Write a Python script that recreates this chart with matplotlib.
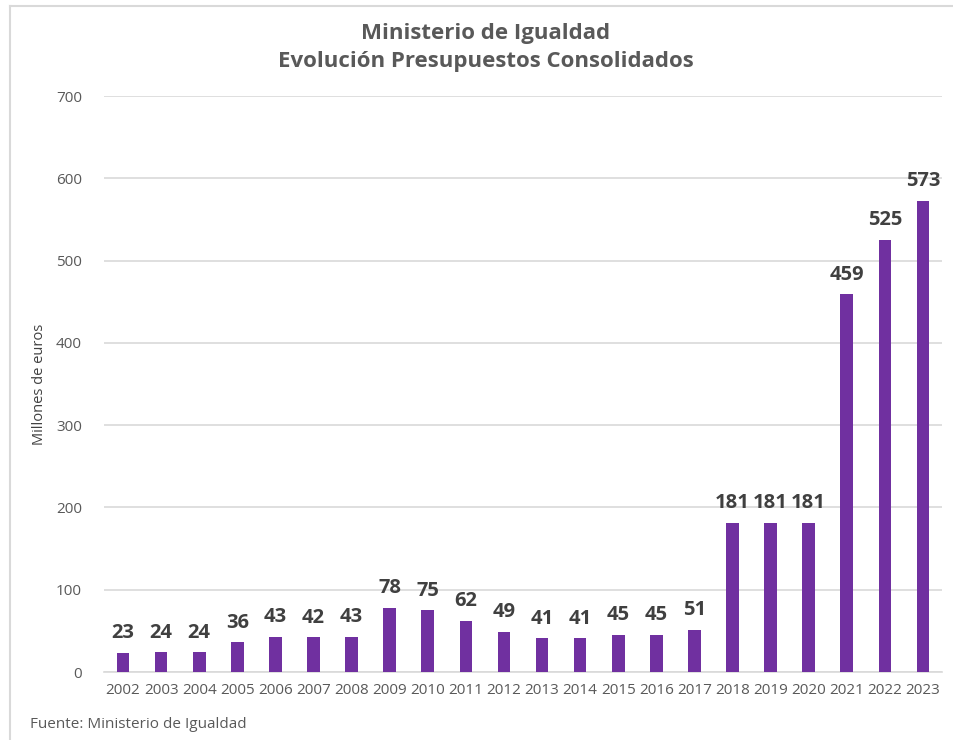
import matplotlib
matplotlib.use("Agg")
import matplotlib.pyplot as plt
from matplotlib.lines import Line2D

years = [str(y) for y in range(2002, 2024)]
values = [23, 24, 24, 36, 43, 42, 43, 78, 75, 62, 49, 41, 41, 45, 45, 51, 181, 181, 181, 459, 525, 573]
title_lines = ["Ministerio de Igualdad", "Evolución Presupuestos Consolidados"]
ylabel = "Millones de euros"
source = "Fuente: Ministerio de Igualdad"

W, H = 954, 740
fig = plt.figure(figsize=(W/100, H/100), dpi=100)
font = ["Open Sans", "DejaVu Sans"]

ax = fig.add_axes([104/W, 1-672/H, (942-104)/W, (672-96)/H])
x = range(len(years))
ax.bar(x, values, width=0.33, color="#7030A0", zorder=3)
ax.set_xlim(-0.5, len(years)-0.5)
ax.set_ylim(0, 700)
ax.set_yticks(range(0, 701, 100))
ax.set_xticks(list(x))
ax.set_xticklabels(years)
ax.grid(axis="y", color="#D9D9D9", linewidth=1.2, zorder=0)
for s in ["top", "right", "left"]:
    ax.spines[s].set_visible(False)
ax.spines["bottom"].set_color("#D9D9D9")
ax.spines["bottom"].set_linewidth(1.2)
ax.tick_params(axis="both", length=0, colors="#595959", labelsize=11)
ax.tick_params(axis="x", pad=8)
ax.tick_params(axis="y", pad=16)
for lab in ax.get_xticklabels() + ax.get_yticklabels():
    lab.set_family(font)
for i, v in enumerate(values):
    ax.annotate(str(v), (i, v), xytext=(0, 7), textcoords="offset points",
                ha="center", va="bottom", fontsize=14.5, fontweight="bold",
                color="#404040", family=font)
ax.set_ylabel(ylabel, fontsize=10.5, color="#404040", family=font)
ax.yaxis.set_label_coords(-0.068, 0.5)

fig.text(486/W, 1-33/H, title_lines[0], ha="center", va="center", fontsize=16,
         fontweight="bold", color="#595959", family=font)
fig.text(486/W, 1-61/H, title_lines[1], ha="center", va="center", fontsize=16,
         fontweight="bold", color="#595959", family=font)
fig.text(30/W, 1-725/H, source, ha="left", va="center", fontsize=11,
         color="#595959", family=font)

fig.add_artist(Line2D([10/W, 10/W], [0, 1-6/H], color="#D9D9D9", linewidth=1.5))
fig.add_artist(Line2D([10/W, 1], [1-6/H, 1-6/H], color="#D9D9D9", linewidth=1.5))

fig.savefig("out.png", dpi=100)
